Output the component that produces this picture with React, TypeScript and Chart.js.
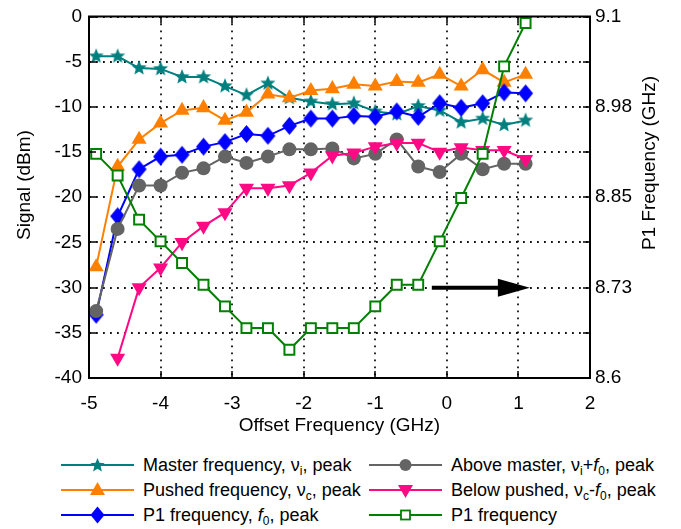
import React, { useEffect, useRef } from 'react';
import { Chart, registerables } from 'chart.js';

Chart.register(...registerables);

// ---------------- data ----------------
const offsetGHz = [-4.9, -4.6, -4.3, -4.0, -3.7, -3.4, -3.1, -2.8, -2.5, -2.2, -1.9, -1.6, -1.3, -1.0, -0.7, -0.4, -0.1, 0.2, 0.5, 0.8, 1.1];
const masterPeak = [-4.4, -4.4, -5.7, -5.8, -6.7, -6.7, -7.7, -8.7, -7.4, -9.0, -9.4, -9.7, -9.6, -10.5, -10.8, -9.9, -10.4, -11.7, -11.3, -12.0, -11.5];
const pushedPeak = [-27.7, -16.6, -13.6, -11.8, -10.4, -10.1, -11.5, -10.6, -8.6, -9.0, -8.2, -8.0, -7.5, -7.7, -7.2, -7.3, -6.4, -7.7, -5.9, -7.3, -6.4];
const p1Peak = [-33.0, -22.1, -16.9, -15.5, -15.3, -14.4, -13.9, -13.0, -13.2, -12.1, -11.3, -11.3, -11.0, -11.1, -10.5, -11.1, -9.6, -10.1, -9.6, -8.4, -8.5];
const aboveMasterPeak = [-32.6, -23.5, -18.7, -18.7, -17.3, -16.8, -15.5, -16.2, -15.5, -14.7, -14.7, -14.6, -15.7, -15.2, -13.6, -16.6, -17.2, -15.2, -16.9, -16.3, -16.3];
const belowPushedPeak = [null, -37.8, -30.0, -27.8, -25.0, -23.2, -21.7, -19.0, -19.0, -18.7, -17.3, -15.4, -15.1, -14.4, -14.0, -14.0, -15.0, -14.5, -14.8, -14.8, -15.8];
const p1FrequencyGHz = [8.910, 8.880, 8.819, 8.789, 8.759, 8.729, 8.699, 8.669, 8.669, 8.639, 8.669, 8.669, 8.669, 8.699, 8.729, 8.729, 8.789, 8.849, 8.910, 9.031, 9.091];

const xTicks = [-5, -4, -3, -2, -1, 0, 1, 2];
const xTickLabels = ['-5', '-4', '-3', '-2', '-1', '0', '1', '2'];
const leftTicks = [-40, -35, -30, -25, -20, -15, -10, -5, 0];
const leftTickLabels = ['-40', '-35', '-30', '-25', '-20', '-15', '-10', '-5', '0'];
const rightTicks = [8.6, 8.725, 8.85, 8.975, 9.1];
const rightTickLabels = ['8.6', '8.73', '8.85', '8.98', '9.1'];

// arrow pointing to the right axis (data units: x in GHz offset, y in P1 GHz)
const arrowStartX = -0.21;
const arrowEndX = 1.16;
const arrowY = 8.725;

const xTitle = 'Offset Frequency (GHz)';
const leftTitle = 'Signal (dBm)';
const rightTitle = 'P1 Frequency (GHz)';

// ---------------- styles ----------------
const TEAL = '#007f7f';
const ORANGE = '#ff8000';
const BLUE = '#0000ff';
const GRAY = '#646464';
const PINK = '#ff0a84';
const GREEN = '#008000';
const FONT = '"Liberation Sans", Arial, Helvetica, sans-serif';

function starPath(cx: number, cy: number, R: number, r: number): [number, number][] {
  const pts: [number, number][] = [];
  for (let i = 0; i < 10; i++) {
    const ang = -Math.PI / 2 + (i * Math.PI) / 5;
    const rad = i % 2 === 0 ? R : r;
    pts.push([cx + rad * Math.cos(ang), cy + rad * Math.sin(ang)]);
  }
  return pts;
}

function makeStar(color: string, R: number, r: number): HTMLCanvasElement {
  const s = Math.ceil(2 * R + 2);
  const c = document.createElement('canvas');
  c.width = s;
  c.height = s;
  const ctx = c.getContext('2d')!;
  const pts = starPath(s / 2, s / 2, R, r);
  ctx.beginPath();
  pts.forEach(([x, y], i) => (i ? ctx.lineTo(x, y) : ctx.moveTo(x, y)));
  ctx.closePath();
  ctx.fillStyle = color;
  ctx.fill();
  return c;
}

function makeDiamond(color: string, hw: number, hh: number): HTMLCanvasElement {
  const w = Math.ceil(2 * hw + 2);
  const h = Math.ceil(2 * hh + 2);
  const c = document.createElement('canvas');
  c.width = w;
  c.height = h;
  const ctx = c.getContext('2d')!;
  ctx.beginPath();
  ctx.moveTo(w / 2, h / 2 - hh);
  ctx.lineTo(w / 2 + hw, h / 2);
  ctx.lineTo(w / 2, h / 2 + hh);
  ctx.lineTo(w / 2 - hw, h / 2);
  ctx.closePath();
  ctx.fillStyle = color;
  ctx.fill();
  return c;
}

const pts = (ys: (number | null)[]) => offsetGHz.map((x, i) => ({ x, y: ys[i] }));

const gridPlugin = {
  id: 'dottedGrid',
  beforeDatasetsDraw(chart: any) {
    const { ctx, chartArea: a, scales } = chart;
    ctx.save();
    ctx.strokeStyle = '#111';
    ctx.lineWidth = 1.8;
    ctx.lineCap = 'butt';
    ctx.setLineDash([1.8, 5.2]);
    ctx.beginPath();
    scales.x.ticks.forEach((t: any) => {
      const p = Math.round(scales.x.getPixelForValue(t.value));
      ctx.moveTo(p, a.top);
      ctx.lineTo(p, a.bottom);
    });
    scales.y.ticks.forEach((t: any) => {
      const p = Math.round(scales.y.getPixelForValue(t.value));
      ctx.moveTo(a.left, p);
      ctx.lineTo(a.right, p);
    });
    ctx.stroke();
    ctx.restore();
  },
};

const framePlugin = {
  id: 'frameAndTicks',
  afterDraw(chart: any) {
    const { ctx, chartArea: a, scales } = chart;
    ctx.save();
    ctx.strokeStyle = '#000';
    ctx.lineWidth = 1.5;
    ctx.beginPath();
    scales.x.ticks.forEach((t: any) => {
      const p = Math.round(scales.x.getPixelForValue(t.value));
      ctx.moveTo(p, a.bottom);
      ctx.lineTo(p, a.bottom - 7);
      ctx.moveTo(p, a.top);
      ctx.lineTo(p, a.top + 7);
    });
    scales.y.ticks.forEach((t: any) => {
      const p = Math.round(scales.y.getPixelForValue(t.value));
      ctx.moveTo(a.left, p);
      ctx.lineTo(a.left + 7, p);
      ctx.moveTo(a.right, p);
      ctx.lineTo(a.right - 7, p);
    });
    ctx.stroke();
    ctx.lineWidth = 2;
    ctx.strokeRect(a.left, a.top, a.right - a.left, a.bottom - a.top);

    // axis titles
    ctx.fillStyle = '#000';
    ctx.font = `19px ${FONT}`;
    ctx.textAlign = 'center';
    ctx.textBaseline = 'middle';
    ctx.fillText(xTitle, (a.left + a.right) / 2, 426);
    ctx.save();
    ctx.translate(25, 185);
    ctx.rotate(-Math.PI / 2);
    ctx.fillText(leftTitle, 0, 0);
    ctx.restore();
    ctx.save();
    ctx.translate(650, 163);
    ctx.rotate(-Math.PI / 2);
    ctx.fillText(rightTitle, 0, 0);
    ctx.restore();
    ctx.restore();
  },
};

const arrowPlugin = {
  id: 'arrow',
  afterDatasetsDraw(chart: any) {
    const { ctx, scales } = chart;
    const x1 = scales.x.getPixelForValue(arrowStartX);
    const x2 = scales.x.getPixelForValue(arrowEndX);
    const y = scales.y1.getPixelForValue(arrowY);
    const headLen = 32;
    const headHalf = 9;
    ctx.save();
    ctx.strokeStyle = '#000';
    ctx.fillStyle = '#000';
    ctx.lineWidth = 4;
    ctx.beginPath();
    ctx.moveTo(x1, y);
    ctx.lineTo(x2 - headLen + 2, y);
    ctx.stroke();
    ctx.beginPath();
    ctx.moveTo(x2, y);
    ctx.lineTo(x2 - headLen, y - headHalf);
    ctx.lineTo(x2 - headLen, y + headHalf);
    ctx.closePath();
    ctx.fill();
    ctx.restore();
  },
};

type Marker = 'star' | 'tri' | 'diamond' | 'circle' | 'itri' | 'square';

function LegendMarker({ marker, color }: { marker: Marker; color: string }) {
  const cx = 36.5;
  const cy = 12;
  let shape: React.ReactNode = null;
  if (marker === 'star') {
    shape = <polygon points={starPath(cx, cy + 0.5, 7.5, 3.3).map((p) => p.join(',')).join(' ')} fill={color} />;
  } else if (marker === 'tri') {
    shape = <polygon points={`${cx},${cy - 8} ${cx + 7.5},${cy + 5} ${cx - 7.5},${cy + 5}`} fill={color} />;
  } else if (marker === 'itri') {
    shape = <polygon points={`${cx},${cy + 8} ${cx + 7.5},${cy - 5} ${cx - 7.5},${cy - 5}`} fill={color} />;
  } else if (marker === 'diamond') {
    shape = <polygon points={`${cx},${cy - 8.5} ${cx + 7},${cy} ${cx},${cy + 8.5} ${cx - 7},${cy}`} fill={color} />;
  } else if (marker === 'circle') {
    shape = <circle cx={cx} cy={cy} r={6} fill={color} />;
  } else if (marker === 'square') {
    shape = <rect x={cx - 4.5} y={cy - 4.5} width={9} height={9} fill="#fff" stroke={color} strokeWidth={1.8} />;
  }
  return (
    <svg width={73} height={24} style={{ position: 'absolute', left: 0, top: 0 }}>
      <line x1={0} y1={cy} x2={73} y2={cy} stroke={color} strokeWidth={2} />
      {shape}
    </svg>
  );
}

const subStyle: React.CSSProperties = { fontSize: '12px', lineHeight: 0, verticalAlign: '-4px' };

const legendItems: { col: number; row: number; marker: Marker; color: string; label: React.ReactNode }[] = [
  { col: 0, row: 0, marker: 'star', color: TEAL, label: <>Master frequency, ν<sub style={subStyle}>i</sub>, peak</> },
  { col: 0, row: 1, marker: 'tri', color: ORANGE, label: <>Pushed frequency, ν<sub style={subStyle}>c</sub>, peak</> },
  { col: 0, row: 2, marker: 'diamond', color: BLUE, label: <>P1 frequency, <i>f</i><sub style={subStyle}>0</sub>, peak</> },
  { col: 1, row: 0, marker: 'circle', color: GRAY, label: <>Above master, ν<sub style={subStyle}>i</sub>+<i>f</i><sub style={subStyle}>0</sub>, peak</> },
  { col: 1, row: 1, marker: 'itri', color: PINK, label: <>Below pushed, ν<sub style={subStyle}>c</sub>-<i>f</i><sub style={subStyle}>0</sub>, peak</> },
  { col: 1, row: 2, marker: 'square', color: GREEN, label: <>P1 frequency</> },
];

const legendColX = [61, 369];
const legendRowY = [465, 490, 515];

export default function App() {
  const canvasRef = useRef<HTMLCanvasElement | null>(null);

  useEffect(() => {
    if (!canvasRef.current) return;
    const starImg = makeStar(TEAL, 8, 3.5);
    const diamondImg = makeDiamond(BLUE, 7.5, 9);
    const tickFont = { family: FONT, size: 19, lineHeight: 1 };
    const gridOff = { display: false, drawTicks: false };
    const borderOff = { display: false };

    const chart = new Chart(canvasRef.current, {
      type: 'line',
      data: {
        datasets: [
          {
            label: 'Master frequency, νi, peak',
            data: pts(masterPeak),
            borderColor: TEAL,
            backgroundColor: TEAL,
            borderWidth: 2,
            pointStyle: starImg as any,
            order: 5,
            yAxisID: 'y',
          },
          {
            label: 'Pushed frequency, νc, peak',
            data: pts(pushedPeak),
            borderColor: ORANGE,
            backgroundColor: ORANGE,
            borderWidth: 2,
            pointStyle: 'triangle',
            pointRadius: 8.7,
            pointBorderWidth: 0,
            order: 4,
            yAxisID: 'y',
          },
          {
            label: 'P1 frequency, f0, peak',
            data: pts(p1Peak),
            borderColor: BLUE,
            backgroundColor: BLUE,
            borderWidth: 2,
            pointStyle: diamondImg as any,
            order: 3,
            yAxisID: 'y',
          },
          {
            label: 'Above master, νi+f0, peak',
            data: pts(aboveMasterPeak),
            borderColor: GRAY,
            backgroundColor: GRAY,
            borderWidth: 2,
            pointStyle: 'circle',
            pointRadius: 7,
            pointBorderWidth: 0,
            order: 2,
            yAxisID: 'y',
          },
          {
            label: 'Below pushed, νc-f0, peak',
            data: pts(belowPushedPeak),
            borderColor: PINK,
            backgroundColor: PINK,
            borderWidth: 2,
            pointStyle: 'triangle',
            pointRotation: 180,
            pointRadius: 8.7,
            pointBorderWidth: 0,
            order: 1,
            yAxisID: 'y',
          },
          {
            label: 'P1 frequency',
            data: pts(p1FrequencyGHz),
            borderColor: GREEN,
            backgroundColor: '#ffffff',
            pointBorderColor: GREEN,
            pointBackgroundColor: '#ffffff',
            borderWidth: 2,
            pointStyle: 'rect',
            pointRadius: 7,
            pointBorderWidth: 2,
            order: 0,
            yAxisID: 'y1',
          },
        ] as any,
      },
      options: {
        animation: false,
        responsive: false,
        events: [],
        layout: { padding: { top: 11, left: 0, right: 0, bottom: 0 } },
        elements: { line: { tension: 0 } },
        plugins: { legend: { display: false }, tooltip: { enabled: false } },
        scales: {
          x: {
            type: 'linear',
            min: -5,
            max: 2,
            afterBuildTicks: (s: any) => {
              s.ticks = xTicks.map((v) => ({ value: v }));
            },
            afterFit: (s: any) => {
              s.height = 62;
            },
            ticks: {
              font: tickFont,
              color: '#000',
              padding: 16,
              maxRotation: 0,
              callback: (v: any) => {
                const i = xTicks.findIndex((t) => Math.abs(t - v) < 1e-6);
                return i >= 0 ? xTickLabels[i] : '';
              },
            },
            grid: gridOff,
            border: borderOff,
          },
          y: {
            type: 'linear',
            position: 'left',
            min: -40,
            max: 0,
            afterBuildTicks: (s: any) => {
              s.ticks = leftTicks.map((v) => ({ value: v }));
            },
            afterFit: (s: any) => {
              s.width = 89;
            },
            ticks: {
              font: tickFont,
              color: '#000',
              padding: 7,
              callback: (v: any) => {
                const i = leftTicks.findIndex((t) => Math.abs(t - v) < 1e-6);
                return i >= 0 ? leftTickLabels[i] : '';
              },
            },
            grid: gridOff,
            border: borderOff,
          },
          y1: {
            type: 'linear',
            position: 'right',
            min: 8.6,
            max: 9.1,
            afterBuildTicks: (s: any) => {
              s.ticks = rightTicks.map((v) => ({ value: v }));
            },
            afterFit: (s: any) => {
              s.width = 91;
            },
            ticks: {
              font: tickFont,
              color: '#000',
              padding: 5,
              callback: (v: any) => {
                const i = rightTicks.findIndex((t) => Math.abs(t - v) < 1e-6);
                return i >= 0 ? rightTickLabels[i] : '';
              },
            },
            grid: gridOff,
            border: borderOff,
          },
        },
      } as any,
      plugins: [gridPlugin, framePlugin, arrowPlugin],
    });
    return () => chart.destroy();
  }, []);

  return (
    <div style={{ position: 'absolute', left: 0, top: 0, width: 681, height: 529, background: '#fff', fontFamily: FONT }}>
      <canvas ref={canvasRef} width={681} height={440} style={{ display: 'block' }} />
      {legendItems.map((it, k) => (
        <div
          key={k}
          style={{ position: 'absolute', left: legendColX[it.col], top: legendRowY[it.row] - 12, height: 24, width: 300 }}
        >
          <LegendMarker marker={it.marker} color={it.color} />
          <div
            style={{
              position: 'absolute',
              left: 82,
              top: 0,
              lineHeight: '24px',
              fontSize: '18px',
              color: '#000',
              whiteSpace: 'nowrap',
            }}
          >
            {it.label}
          </div>
        </div>
      ))}
    </div>
  );
}
